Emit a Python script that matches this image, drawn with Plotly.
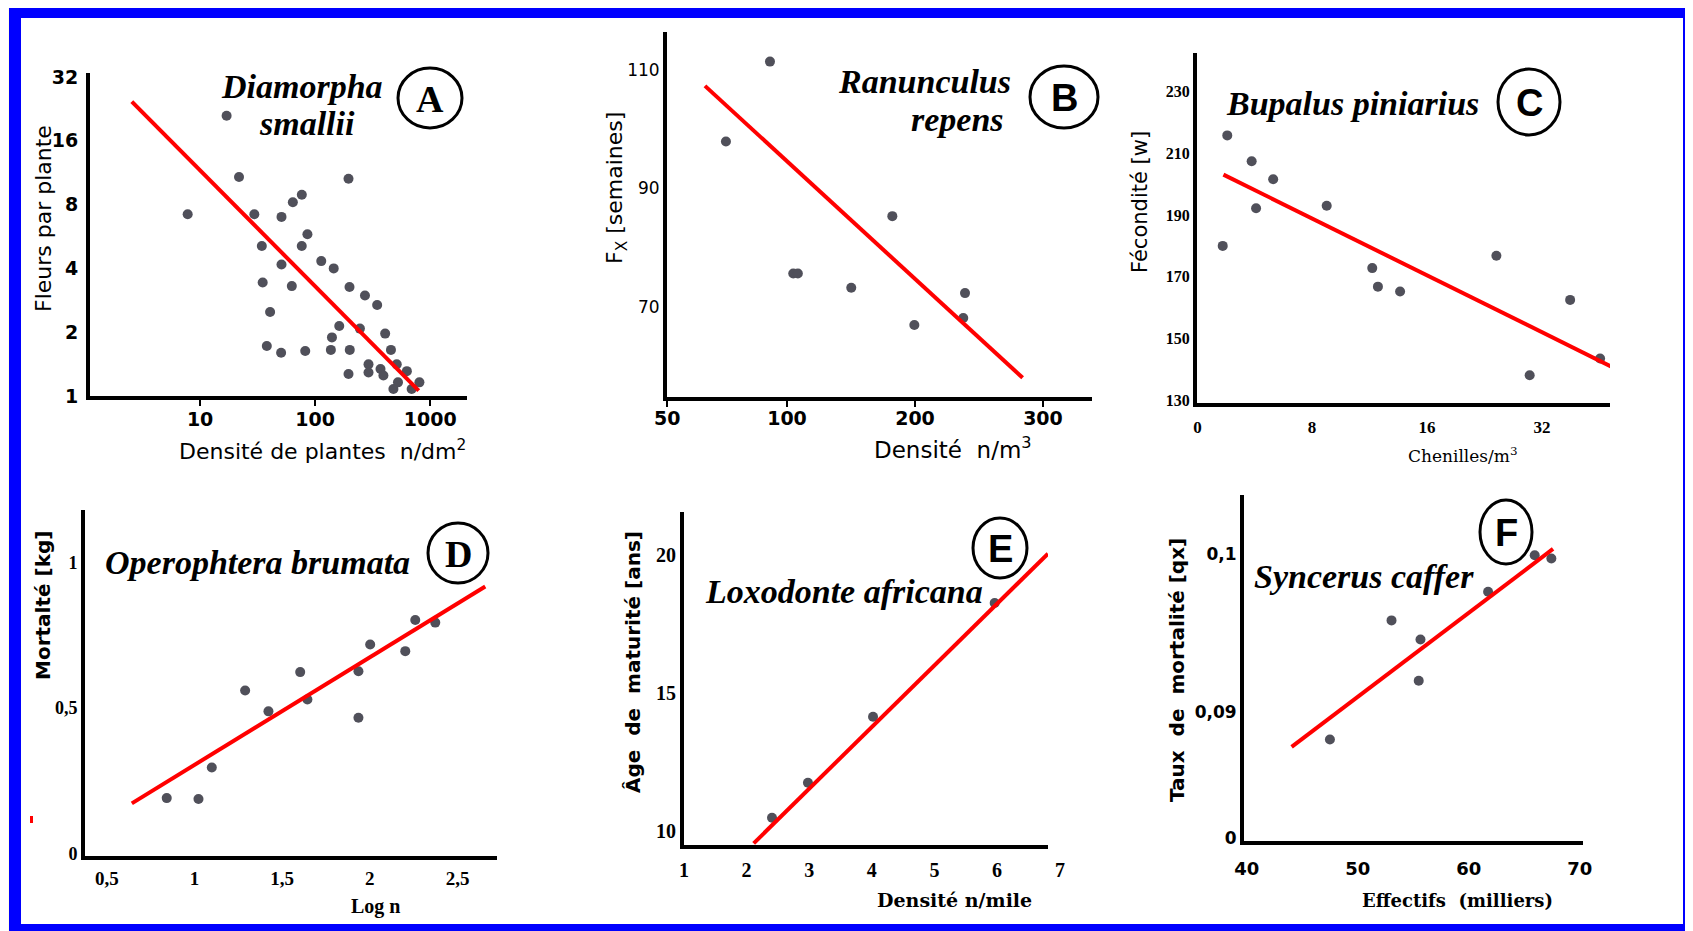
import plotly.graph_objects as go

# the page puts the figure 8 px in from the top-left corner of the window
W, H = 1693, 931
OX, OY = 8, 8
FW, FH = W - OX, H - OY

# ---- panel A : Diamorpha smallii ----
a_dens = [17, 7.8, 21.8, 195, 29.6, 51, 64, 76.6, 85.7, 34.4, 76.5, 51, 113, 145, 35,
          62.7, 199, 271, 346, 40.6, 162, 245, 406, 140, 38, 50.6, 82, 137, 200, 456,
          195, 291, 291, 370, 392, 512, 627, 525, 479, 806, 690]
a_fleurs = [21, 7.2, 10.8, 10.6, 7.2, 7.0, 8.2, 8.9, 5.8, 5.1, 5.1, 4.17, 4.33, 4.0, 3.43,
            3.3, 3.27, 2.98, 2.69, 2.49, 2.14, 2.08, 1.97, 1.89, 1.72, 1.6, 1.63, 1.65, 1.65, 1.65,
            1.27, 1.41, 1.29, 1.34, 1.25, 1.41, 1.31, 1.16, 1.08, 1.16, 1.08]
a_fit_x = [2.55, 795]
a_fit_y = [24.5, 1.06]
a_xticks = [10, 100, 1000]
a_yticks = [1, 2, 4, 8, 16, 32]

# ---- panel B : Ranunculus repens ----
b_dens = [86.7, 52.3, 104.9, 108.5, 150.2, 182.3, 199.5, 239.1, 237.7]
b_fx = [111.4, 97.9, 75.6, 75.6, 73.2, 85.3, 66.9, 72.3, 68.1]
b_fit_x = [35.9, 284.1]
b_fit_y = [107.3, 58.0]
b_xticks = [6.5, 100, 200, 300]
b_xlabels = ["50", "100", "200", "300"]
b_yticks = [70, 90, 110]

# ---- panel C : Bupalus piniarius ----
c_chen = [4.8, 5.56, 6.33, 5.71, 8.74, 4.67, 11.5, 11.9, 13.6, 24.3, 37.9, 29.7, 45.4]
c_fec = [215.8, 207.4, 201.6, 192.2, 193.0, 180.0, 172.8, 166.8, 165.2, 176.8, 162.5, 138.1, 143.5]
c_fit_x = [4.69, 49.7]
c_fit_y = [203.1, 140.3]
c_xticks = [4.01, 8, 16, 32]
c_xlabels = ["0", "8", "16", "32"]
c_yticks = [130, 150, 170, 190, 210, 230]

# ---- panel D : Operophtera brumata ----
d_logn = [0.842, 1.023, 1.099, 1.289, 1.422, 1.603, 1.644, 1.935, 1.935, 2.002, 2.202, 2.259, 2.373]
d_mort = [0.19, 0.187, 0.295, 0.56, 0.488, 0.623, 0.529, 0.466, 0.626, 0.718, 0.695, 0.802, 0.793]
d_fit_x = [0.643, 2.658]
d_fit_y = [0.172, 0.917]
d_xticks = [0.5, 1, 1.5, 2, 2.5]
d_xlabels = ["0,5", "1", "1,5", "2", "2,5"]
d_yticks = [0, 0.5, 1]
d_ylabels = ["0", "0,5", "1"]

# ---- panel E : Loxodonte africana ----
e_dens = [2.406, 2.98, 4.02, 5.963]
e_age = [10.48, 11.75, 14.14, 18.27]
e_fit_x = [2.113, 6.815]
e_fit_y = [9.55, 20.06]
e_xticks = [1, 2, 3, 4, 5, 6]
e_yticks = [10, 15, 20]

# ---- panel F : Syncerus caffer ----
f_eff = [47.5, 53.05, 55.66, 55.5, 61.75, 65.95, 67.45]
f_taux = [0.0883, 0.0958, 0.0946, 0.0920, 0.0976, 0.0999, 0.0997]
f_fit_x = [44.05, 67.6]
f_fit_y = [0.08783, 0.1003]
f_xticks = [40, 50, 60, 70]
f_yticks = [0.0821, 0.09, 0.1]
f_ylabels = ["0", "0,09", "0,1"]


def fx(x):
    return (x - OX) / FW


def fy(y):
    return 1 - (y - OY) / FH


DOT = "#50505a"
RED = "#ff0000"
SANS = "DejaVu Sans"
SERIF = "Liberation Serif"
WSERIF = "DejaVu Serif"

fig = go.Figure()

series = [
    (a_dens, a_fleurs, a_fit_x, a_fit_y, "x", "y"),
    (b_dens, b_fx, b_fit_x, b_fit_y, "x2", "y2"),
    (c_chen, c_fec, c_fit_x, c_fit_y, "x3", "y3"),
    (d_logn, d_mort, d_fit_x, d_fit_y, "x4", "y4"),
    (e_dens, e_age, e_fit_x, e_fit_y, "x5", "y5"),
    (f_eff, f_taux, f_fit_x, f_fit_y, "x6", "y6"),
]
for xs, ys, lx, ly, xa, ya in series:
    fig.add_trace(go.Scatter(x=xs, y=ys, mode="markers", xaxis=xa, yaxis=ya,
                             marker=dict(color=DOT, size=10), cliponaxis=False,
                             showlegend=False))
    fig.add_trace(go.Scatter(x=lx, y=ly, mode="lines", xaxis=xa, yaxis=ya,
                             line=dict(color=RED, width=4), cliponaxis=False,
                             showlegend=False))


def axis(dom, rng, tickvals, ticktext=None, font=SANS, size=19, weight="bold",
         typ="linear", ticks="", anchor=None, standoff=0):
    d = dict(domain=dom, range=rng, type=typ, showline=True, linecolor="black",
             linewidth=4, showgrid=False, zeroline=False, tickvals=tickvals,
             ticktext=ticktext if ticktext is not None else [str(v) for v in tickvals],
             ticks=ticks, ticklen=6, tickwidth=2, tickcolor="black",
             tickfont=dict(family=font, size=size, color="black", weight=weight),
             automargin=False, fixedrange=True, anchor=anchor,
             ticklabelstandoff=standoff)
    return d


layout = dict(
    width=FW, height=FH, margin=dict(l=0, r=0, t=0, b=0, pad=0, autoexpand=False),
    paper_bgcolor="#fffde6", plot_bgcolor="rgba(0,0,0,0)",
    # A
    xaxis=axis([fx(90), fx(467)], [0.043, 3.32], a_xticks, ["10", "100", "1000"],
               typ="log", ticks="outside", size=19, anchor="y", standoff=-3),
    yaxis=axis([fy(396), fy(73)], [0, 1.524], a_yticks,
               typ="log", size=19, anchor="x", standoff=4),
    # B
    xaxis2=axis([fx(667), fx(1092)], [6.25, 338.3], b_xticks, b_xlabels,
                ticks="outside", size=19, anchor="y2", standoff=-5),
    yaxis2=axis([fy(397), fy(32)], [54.75, 116.4], b_yticks,
                size=17, weight="normal", anchor="x2"),
    # C
    xaxis3=axis([fx(1197), fx(1610)], [0.602, 1.683], c_xticks, c_xlabels,
                font=SERIF, size=17, typ="log", anchor="y3", standoff=6),
    yaxis3=axis([fy(403), fy(53)], [129.1, 242.5], c_yticks,
                font=SERIF, size=16, anchor="x3"),
    # D
    xaxis4=axis([fx(85), fx(497)], [0.376, 2.725], d_xticks, d_xlabels,
                font=SERIF, size=19, anchor="y4", standoff=2),
    yaxis4=axis([fy(856), fy(510)], [-0.009, 1.18], d_yticks, d_ylabels,
                font=SERIF, size=18, anchor="x4"),
    # E
    xaxis5=axis([fx(684), fx(1048)], [1.0, 6.815], e_xticks,
                font=SERIF, size=20, anchor="y5", standoff=4),
    yaxis5=axis([fy(845), fy(512)], [9.49, 21.57], e_yticks,
                font=SERIF, size=20, anchor="x5"),
    # F
    xaxis6=axis([fx(1244), fx(1583)], [39.76, 70.3], f_xticks,
                size=18, anchor="y6", standoff=8),
    yaxis6=axis([fy(841), fy(495)], [0.0819, 0.1037], f_yticks, f_ylabels,
                size=17, anchor="x6"),
)
fig.update_layout(**layout)

# frame: cream outside, blue border, white inside
fig.add_shape(type="rect", xref="paper", yref="paper", x0=fx(9), x1=fx(1700),
              y0=fy(940), y1=fy(6), fillcolor="#0000ff", line_width=0, layer="below")
fig.add_shape(type="rect", xref="paper", yref="paper", x0=fx(21), x1=fx(1683),
              y0=fy(924), y1=fy(18), fillcolor="white", line_width=0, layer="below")
# small red speck left of panel D
fig.add_shape(type="rect", xref="paper", yref="paper", x0=fx(30), x1=fx(33),
              y0=fy(823), y1=fy(816), fillcolor=RED, line_width=0)

# circled panel letters
circles = [("A", 430, 98, 32, 30, SERIF), ("B", 1064, 97, 34, 31, "Liberation Sans"),
           ("C", 1529, 102, 31, 33, "Liberation Sans"), ("D", 458, 553, 30, 30, SERIF),
           ("E", 1000, 548, 27, 30, "Liberation Sans"), ("F", 1506, 532, 26, 32, "Liberation Sans")]
for letter, cx, cy, rx, ry, fam in circles:
    fig.add_shape(type="circle", xref="paper", yref="paper",
                  x0=fx(cx - rx), x1=fx(cx + rx), y0=fy(cy + ry), y1=fy(cy - ry),
                  line=dict(color="black", width=3))
    fig.add_annotation(text=letter, x=fx(cx), y=fy(cy + 1), xref="paper", yref="paper",
                       showarrow=False, xanchor="center", yanchor="middle",
                       font=dict(family=fam, size=38, color="black", weight="bold"))

# species names
species = [("Diamorpha", 302, 86), ("smallii", 307, 123), ("Ranunculus", 924, 82),
           ("repens", 957, 119), ("Bupalus piniarius", 1352, 103),
           ("Operophtera brumata", 258, 562), ("Loxodonte africana", 844, 591),
           ("Syncerus caffer", 1364, 576)]
for name, cx, cy in species:
    fig.add_annotation(text=name, x=fx(cx), y=fy(cy), xref="paper", yref="paper",
                       showarrow=False, xanchor="center", yanchor="middle",
                       font=dict(family=SERIF, size=34, color="black",
                                 weight="bold", style="italic"))

# axis titles
titles_y = [("Fleurs par plante", 43, 219, SANS, 22, "normal"),
            ("F<sub>X</sub> [semaines]", 617, 188, SANS, 22, "normal"),
            ("Fécondité [w]", 1140, 202, SANS, 21, "normal"),
            ("Mortalté [kg]", 43, 606, SANS, 20, "bold"),
            ("Âge  de  maturité [ans]", 633, 662, SANS, 20, "bold"),
            ("Taux  de  mortalité [qx]", 1177, 670, SANS, 20, "bold")]
for t, cx, cy, fam, sz, wt in titles_y:
    fig.add_annotation(text=t, x=fx(cx), y=fy(cy), xref="paper", yref="paper",
                       showarrow=False, textangle=-90, xanchor="center", yanchor="middle",
                       font=dict(family=fam, size=sz, color="black", weight=wt))

titles_x = [("Densité de plantes  n/dm<sup>2</sup>", 322, 450, SANS, 22, "normal"),
            ("Densité  n/m<sup>3</sup>", 953, 448, SANS, 23, "normal"),
            ("Chenilles/m<sup>3</sup>", 1463, 455, WSERIF, 17, "normal"),
            ("Log n", 375, 906, SERIF, 20, "bold"),
            ("Densité n/mile", 954, 900, WSERIF, 19, "bold"),
            ("Effectifs  (milliers)", 1457, 900, WSERIF, 18, "bold")]
for t, cx, cy, fam, sz, wt in titles_x:
    fig.add_annotation(text=t, x=fx(cx), y=fy(cy), xref="paper", yref="paper",
                       showarrow=False, xanchor="center", yanchor="middle",
                       font=dict(family=fam, size=sz, color="black", weight=wt))

# the "7" of panel E sits just past the end of its axis
fig.add_annotation(text="7", x=fx(1060), y=fy(870), xref="paper", yref="paper",
                   showarrow=False, xanchor="center", yanchor="middle",
                   font=dict(family=SERIF, size=20, color="black", weight="bold"))

fig.write_html("out.html")
